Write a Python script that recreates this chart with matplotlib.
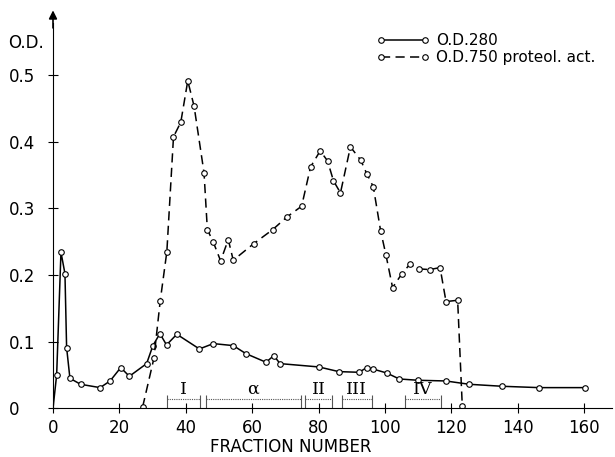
import matplotlib
matplotlib.use("Agg")
import matplotlib.pyplot as plt

# O.D. 280 (solid curve)
frac_280 = [0, 1.1, 2.4, 3.6, 4.1, 5.1, 8.3, 14.2, 17.2, 20.4, 23, 28.2, 30.1,
            32.2, 34.2, 37.3, 44.1, 48.3, 54.3, 58.1, 64.2, 66.5, 68.4, 80.1,
            86.1, 92.2, 94.5, 96.3, 100.5, 104.3, 110, 118.3, 125.4, 135.4,
            146.4, 160.4]
od_280 = [0, 0.050, 0.234, 0.202, 0.091, 0.045, 0.036, 0.031, 0.041, 0.061,
          0.048, 0.067, 0.094, 0.112, 0.095, 0.111, 0.089, 0.097, 0.094, 0.082,
          0.069, 0.079, 0.067, 0.062, 0.055, 0.054, 0.061, 0.059, 0.053, 0.044,
          0.042, 0.041, 0.036, 0.033, 0.031, 0.031]

# O.D. 750 proteolytic activity (dashed curve)
frac_750 = [27, 30.4, 32.3, 34.3, 36.3, 38.5, 40.6, 42.5, 45.5, 46.5, 48.3,
            50.5, 52.8, 54.3, 60.5, 66.2, 70.5, 74.9, 77.6, 80.5, 82.7, 84.5,
            86.6, 89.6, 92.7, 94.5, 96.5, 98.7, 100.3, 102.3, 105, 107.5,
            110.3, 113.5, 116.6, 118.4, 121.9, 123.3]
od_750 = [0.002, 0.075, 0.161, 0.235, 0.407, 0.429, 0.491, 0.453, 0.353, 0.268,
          0.249, 0.221, 0.253, 0.222, 0.247, 0.268, 0.287, 0.303, 0.362, 0.386,
          0.371, 0.341, 0.323, 0.392, 0.372, 0.352, 0.332, 0.266, 0.230, 0.181,
          0.201, 0.216, 0.209, 0.208, 0.211, 0.160, 0.162, 0.003]

# pooled fraction ranges
pool_names = ["I", "α", "II", "III", "IV"]
pool_start = [34.3, 46, 76, 87, 106]
pool_end = [44.3, 74.7, 84, 96, 117]

x_ticks = [0, 20, 40, 60, 80, 100, 120, 140, 160]
y_ticks = [0, 0.1, 0.2, 0.3, 0.4, 0.5]
y_labels = ["0", "0.1", "0.2", "0.3", "0.4", "0.5"]

plt.rcParams['font.family'] = ['DejaVu Sans']

fig = plt.figure(figsize=(6.15, 4.57), dpi=100)
ax = fig.add_axes([53 / 615, 48.7 / 457, 559 / 615, 385.3 / 457])

mk = dict(marker='o', ms=4.0, mfc='white', mec='black', mew=0.8)

ax.plot(frac_280, od_280, color='black', lw=1.1, markevery=list(range(1, len(frac_280))),
        label='O.D.280', **mk)
ax.plot(frac_750, od_750, color='black', lw=1.1, dashes=(6, 3.5),
        label='O.D.750 proteol. act.', **mk)

# bracket bars for the pools
for name, a, b in zip(pool_names, pool_start, pool_end):
    ax.hlines(0.014, a, b, color='#555555', lw=0.8, linestyles=(0, (1, 1)))
    ax.vlines([a, b], 0.0, 0.02, color='#555555', lw=0.8)
    ax.text((a + b) / 2, 0.016, name, ha='center', va='bottom',
            fontsize=12.5, family='DejaVu Serif')

ax.set_xlim(0, 168.4)
ax.set_ylim(0, 0.5777)
ax.spines['top'].set_visible(False)
ax.spines['right'].set_visible(False)
for s in ['left', 'bottom']:
    ax.spines[s].set_linewidth(0.8)

ax.set_xticks(x_ticks)
ax.set_yticks(y_ticks)
ax.set_yticklabels(y_labels, ha='left')
ax.tick_params(axis='x', direction='inout', length=7, width=0.8, labelsize=12, pad=4)
ax.tick_params(axis='y', direction='inout', length=7, width=0.8, labelsize=12, pad=28)

ax.set_xlabel('FRACTION NUMBER', fontsize=12)
ax.xaxis.set_label_coords(71.7 / 168.4, -30 / 385.3)

# arrow on the y axis
ax.annotate('', xy=(0, 1.04), xytext=(0, 0.98), xycoords='axes fraction',
            arrowprops=dict(arrowstyle='-|>', color='black', lw=1.2,
                            mutation_scale=12))

fig.text(8 / 615, 1 - 43 / 457, 'O.D.', fontsize=12, ha='left', va='center')

ax.legend(loc='upper left', bbox_to_anchor=(376 / 615, 1 - 33 / 457),
          bbox_transform=fig.transFigure, frameon=False, numpoints=2,
          handlelength=3.5, handletextpad=0.45, labelspacing=0.15,
          borderpad=0, borderaxespad=0, fontsize=11)

fig.savefig('out.png', dpi=100, facecolor='white')
